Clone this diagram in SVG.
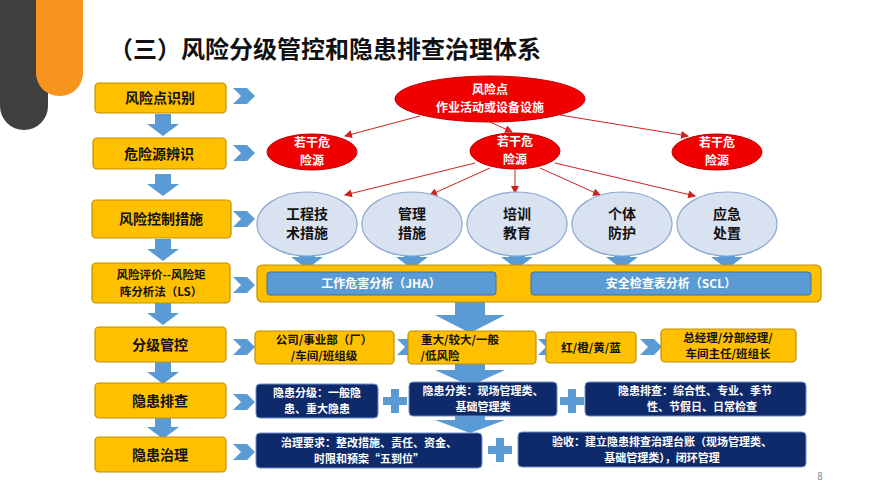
<svg xmlns="http://www.w3.org/2000/svg" width="888" height="500" viewBox="0 0 888 500">
<style>
text{font-family:"Noto Sans CJK SC","Liberation Sans",sans-serif;font-weight:bold;text-anchor:middle}
.ob{fill:#FFC000;stroke:#BF9000;stroke-width:1.2}
.ot{font-size:14px;fill:#111}
.os{font-size:11.5px;fill:#111}
.nv{fill:#0E2A6B;stroke:#6F8FC8;stroke-width:1}
.nt{font-size:11px;fill:#fff}
.re{fill:#F00000;stroke:#C00000}
.rt{font-size:12px;fill:#fff}
.be{fill:#D9E2F1;stroke:#8EA9CF;stroke-width:1.2}
.bt{font-size:14px;fill:#111}
.ar{fill:#5B9BD5}
.rl{stroke:#D02020;stroke-width:1;fill:none;marker-end:url(#ra)}
</style>
<defs>
<marker id="ra" markerWidth="8" markerHeight="8" refX="7" refY="4" orient="auto" markerUnits="userSpaceOnUse"><path d="M0,0L8,4L0,8z" fill="#D02020"/></marker>
<path id="chev" d="M0,0H14L22,8L14,16H0L8,8z"/>
<path id="dn" d="M-8,0H8V10H16L0,22L-16,10H-8z"/>
<path id="plus" d="M-4,-12H4V-4H12V4H4V12H-4V4H-12V-4H-4z"/>
</defs>
<rect width="888" height="500" fill="#fff"/>
<rect x="0" y="-40" width="48" height="170" rx="24" fill="#3F3F3F"/>
<rect x="36" y="-40" width="47" height="136" rx="23" fill="#F7941D"/>
<text x="325" y="58" style="font-size:24px;fill:#111">（三）风险分级管控和隐患排查治理体系</text>

<g id="connectors">
<g class="ar">
<use href="#dn" x="163" y="114"/><use href="#dn" x="163" y="174"/><use href="#dn" x="163" y="239"/><use href="#dn" x="163" y="303"/><use href="#dn" x="163" y="362"/><use href="#dn" x="163" y="417"/>
<use href="#chev" x="233" y="88"/><use href="#chev" x="233" y="145"/><use href="#chev" x="233" y="211"/><use href="#chev" x="233" y="277"/><use href="#chev" x="233" y="339"/><use href="#chev" x="233" y="394"/><use href="#chev" x="233" y="444"/>
<use href="#chev" x="397" y="339"/><use href="#chev" x="538" y="339"/><use href="#chev" x="640" y="339"/>
<use href="#dn" x="307" y="247"/><use href="#dn" x="412" y="247"/><use href="#dn" x="517" y="247"/><use href="#dn" x="622" y="247"/><use href="#dn" x="727" y="247"/>
<path d="M455,302H485V315H505L470,333L435,315H455z"/>
<path d="M455,363H485V370H505L470,386L435,370H455z"/>
<path d="M455,416H485V420H505L470,433L435,420H455z"/>
<use href="#plus" x="395" y="401"/><use href="#plus" x="572" y="401"/><use href="#plus" x="500" y="450"/>
</g>
<path class="rl" d="M420,116L345,136"/>
<path class="rl" d="M490,122L512,132"/>
<path class="rl" d="M560,115L688,136"/>
<path class="rl" d="M475,163L345,195"/>
<path class="rl" d="M490,168L430,195"/>
<path class="rl" d="M515,170L515,193"/>
<path class="rl" d="M540,168L600,195"/>
<path class="rl" d="M555,163L695,196"/>
</g>

<g id="left-column">
<g id="n1"><rect class="ob" x="95" y="83" width="131" height="30" rx="4"/><text class="ot" x="160" y="103">风险点识别</text></g>
<g id="n2"><rect class="ob" x="93" y="138" width="133" height="31" rx="4"/><text class="ot" x="159" y="159">危险源辨识</text></g>
<g id="n3"><rect class="ob" x="92" y="200" width="139" height="38" rx="4"/><text class="ot" x="161" y="224">风险控制措施</text></g>
<g id="n4"><rect class="ob" x="92" y="263" width="138" height="40" rx="4"/><text class="os" x="161" y="279">风险评价--风险矩</text><text class="os" x="161" y="296">阵分析法（LS）</text></g>
<g id="n5"><rect class="ob" x="95" y="327" width="131" height="35" rx="4"/><text class="ot" x="160" y="350">分级管控</text></g>
<g id="n6"><rect class="ob" x="95" y="383" width="131" height="35" rx="4"/><text class="ot" x="160" y="406">隐患排查</text></g>
<g id="n7"><rect class="ob" x="95" y="437" width="131" height="35" rx="4"/><text class="ot" x="160" y="460">隐患治理</text></g>
</g>

<g id="top-point"><ellipse class="re" cx="490" cy="99" rx="95" ry="23"/><text class="rt" x="490" y="94">风险点</text><text class="rt" x="490" y="112">作业活动或设备设施</text></g>
<g id="h1"><ellipse class="re" cx="312" cy="152" rx="45" ry="18"/><text class="rt" x="312" y="147">若干危</text><text class="rt" x="312" y="165">险源</text></g>
<g id="h2"><ellipse class="re" cx="515" cy="151" rx="45" ry="18"/><text class="rt" x="515" y="146">若干危</text><text class="rt" x="515" y="164">险源</text></g>
<g id="h3"><ellipse class="re" cx="717" cy="152" rx="45" ry="18"/><text class="rt" x="717" y="147">若干危</text><text class="rt" x="717" y="165">险源</text></g>

<g id="m1"><ellipse class="be" cx="307" cy="224" rx="50" ry="32"/><text class="bt" x="307" y="219">工程技</text><text class="bt" x="307" y="238">术措施</text></g>
<g id="m2"><ellipse class="be" cx="412" cy="224" rx="50" ry="32"/><text class="bt" x="412" y="219">管理</text><text class="bt" x="412" y="238">措施</text></g>
<g id="m3"><ellipse class="be" cx="517" cy="224" rx="50" ry="32"/><text class="bt" x="517" y="219">培训</text><text class="bt" x="517" y="238">教育</text></g>
<g id="m4"><ellipse class="be" cx="622" cy="224" rx="50" ry="32"/><text class="bt" x="622" y="219">个体</text><text class="bt" x="622" y="238">防护</text></g>
<g id="m5"><ellipse class="be" cx="727" cy="224" rx="50" ry="32"/><text class="bt" x="727" y="219">应急</text><text class="bt" x="727" y="238">处置</text></g>

<g id="analysis">
<rect class="ob" x="257" y="265" width="564" height="37" rx="5"/>
<rect x="267" y="272" width="229" height="23" rx="3" fill="#5B9BD5" stroke="#41719C"/>
<rect x="531" y="272" width="280" height="23" rx="3" fill="#5B9BD5" stroke="#41719C"/>
<text x="381" y="288" style="font-size:12px;fill:#fff">工作危害分析（JHA）</text>
<text x="671" y="288" style="font-size:12px;fill:#fff">安全检查表分析（SCL）</text>
</g>

<g id="g1"><rect class="ob" x="255" y="331" width="139" height="33" rx="4"/><text class="os" x="324" y="344">公司/事业部（厂）</text><text class="os" x="324" y="360">/车间/班组级</text></g>
<g id="g2"><rect class="ob" x="408" y="331" width="128" height="33" rx="4"/><text class="os" x="460" y="344">重大/较大/一般</text><text class="os" x="440" y="360">/低风险</text></g>
<g id="g3"><rect class="ob" x="546" y="332" width="90" height="31" rx="4"/><text class="os" x="591" y="352">红/橙/黄/蓝</text></g>
<g id="g4"><rect class="ob" x="661" y="329" width="135" height="33" rx="4"/><text class="os" x="728" y="342">总经理/分部经理/</text><text class="os" x="728" y="358">车间主任/班组长</text></g>

<g id="p1"><rect class="nv" x="256" y="384" width="122" height="34" rx="4"/><text class="nt" x="317" y="397">隐患分级：一般隐</text><text class="nt" x="317" y="413">患、重大隐患</text></g>
<g id="p2"><rect class="nv" x="409" y="382" width="148" height="34" rx="4"/><text class="nt" x="483" y="395">隐患分类：现场管理类、</text><text class="nt" x="483" y="411">基础管理类</text></g>
<g id="p3"><rect class="nv" x="585" y="382" width="221" height="34" rx="4"/><text class="nt" x="695" y="395">隐患排查：综合性、专业、季节</text><text class="nt" x="702" y="411">性、节假日、日常检查</text></g>
<g id="q1"><rect class="nv" x="256" y="433" width="226" height="35" rx="4"/><text class="nt" x="369" y="447">治理要求：整改措施、责任、资金、</text><text class="nt" x="369" y="463">时限和预案“五到位”</text></g>
<g id="q2"><rect class="nv" x="518" y="432" width="288" height="35" rx="4"/><text class="nt" x="662" y="446">验收：建立隐患排查治理台账（现场管理类、</text><text class="nt" x="662" y="462">基础管理类），闭环管理</text></g>

<text x="820" y="480" style="font-size:10px;fill:#888;font-weight:normal">8</text>
</svg>
